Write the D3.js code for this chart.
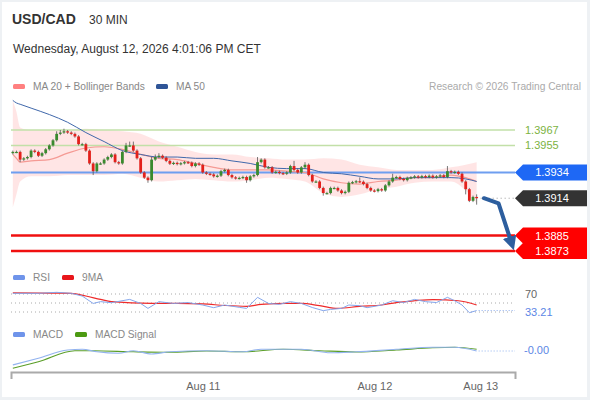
<!DOCTYPE html>
<html>
<head>
<meta charset="utf-8">
<script src="https://cdn.jsdelivr.net/npm/d3@7"></script>
<style>
  body { margin: 0; background: #eef1f4; }
  svg { display: block; font-family: "Liberation Sans", Arial, sans-serif; }
</style>
</head>
<body>
<div id="chart"></div>
<script>
// 30 min closes, one per candle (open = previous close)
var firstOpen = 1.3949;
var closes = [
  1.3950, 1.3950, 1.3944, 1.3945, 1.3946, 1.3951, 1.3950, 1.3947, 1.3949, 1.3952,
  1.3955, 1.3959, 1.3964, 1.3965, 1.3966, 1.3965, 1.3964, 1.3962, 1.3956, 1.3956,
  1.3951, 1.3941, 1.3935, 1.3941, 1.3941, 1.3944, 1.3946, 1.3948, 1.3942, 1.3941,
  1.3950, 1.3955, 1.3955, 1.3951, 1.3945, 1.3934, 1.3930, 1.3928, 1.3944, 1.3946,
  1.3947, 1.39455, 1.3943, 1.39408, 1.39415, 1.39405, 1.39412, 1.3942, 1.39416, 1.3939,
  1.3941, 1.3940, 1.3934, 1.3933, 1.39325, 1.3931, 1.39315, 1.3935, 1.3936, 1.3932,
  1.39302, 1.39295, 1.39298, 1.39305, 1.3928, 1.3931, 1.3932, 1.3942, 1.3944, 1.3938,
  1.3938, 1.3934, 1.39345, 1.39335, 1.3933, 1.3934, 1.3939, 1.3936, 1.3934, 1.3938,
  1.3940, 1.3932, 1.3927, 1.3927, 1.3922, 1.3918, 1.3918, 1.3922, 1.3922, 1.3920,
  1.3918, 1.3919, 1.3926, 1.39265, 1.39272, 1.39268, 1.3925, 1.3922, 1.3920, 1.39195,
  1.3921, 1.3920, 1.3924, 1.3927, 1.3930, 1.39305, 1.3929, 1.3928, 1.39298, 1.39302,
  1.3931, 1.39302, 1.39312, 1.39305, 1.39315, 1.39302, 1.3931, 1.39318, 1.39305, 1.3935,
  1.3934, 1.39345, 1.3933, 1.3927, 1.3921, 1.3912, 1.3915, 1.3914
];
// wick lengths above / below the body, in pips
var wickUp = [
  1,1,1,1,1,1,1,1,1,1, 1,1,2,2,2,1,1,1,1,1, 1,1,1,1,1,1,1,1,1,1, 1,2,3,3,1,1,1,1,2,2,
  2,1,1,1,1,1,1,1,1,1, 1,1,1,1,1,1,1,1,1,1, 1,1,1,1,1,1,1,4,1,1, 1,1,1,1,1,1,1,4,1,1,
  2,1,1,1,1,1,1,1,1,1, 1,1,1,1,1,3,1,1,1,1, 1,1,1,1,3,1,1,1,1,1, 1,1,1,1,1,1,1,1,1,4,
  1,1,1,1,1,1,1,2
];
var wickDn = [
  1,1,2,1,1,1,1,1,1,1, 1,1,1,1,1,1,1,1,1,1, 1,1,3,1,1,1,1,1,1,1, 1,1,1,1,1,1,1,2,1,1,
  1,1,1,1,1,1,1,1,1,1, 1,1,1,1,1,1,1,1,1,1, 1,1,1,1,2,1,1,1,1,1, 1,1,1,1,1,1,1,1,1,1,
  1,1,1,1,1,2,1,1,1,1, 1,1,1,1,1,1,1,1,1,1, 1,1,1,1,1,1,1,1,1,1, 1,1,1,1,1,1,1,1,1,1,
  1,1,1,1,4,1,1,5
];

// MA 20, Bollinger bands and MA 50, read at these candle indices
var bandIdx   = [0, 1, 2, 5, 10, 15, 20, 25, 30, 35, 40, 45, 50, 55, 60, 65, 70, 75, 80, 85, 90, 95, 100, 105, 110, 115, 120, 124, 127];
var bandUpper = [1.3990, 1.3981, 1.3969, 1.3967, 1.3967, 1.3967, 1.3968, 1.3967, 1.3966, 1.3964, 1.3958, 1.3954, 1.3950, 1.3948, 1.3948,
                 1.3946, 1.3945, 1.3944, 1.3944, 1.3945, 1.3944, 1.3940, 1.3938, 1.3936, 1.3936, 1.3936, 1.3938, 1.3940, 1.3942];
var bandLower = [1.3907, 1.3917, 1.3927, 1.3931, 1.3931, 1.3932, 1.3932, 1.3932, 1.3933, 1.3930, 1.3927, 1.3928, 1.3929, 1.3928, 1.3927,
                 1.3928, 1.3930, 1.3929, 1.3927, 1.3918, 1.3915, 1.3917, 1.3921, 1.3923, 1.3926, 1.3927, 1.3927, 1.3920, 1.3910];
var ma20      = [1.3948, 1.3945, 1.3942, 1.3943, 1.3944, 1.3949, 1.3953, 1.3954, 1.3952, 1.3948, 1.3945, 1.3944, 1.3941, 1.3938, 1.3936,
                 1.3936, 1.3936, 1.3935, 1.3934, 1.3929, 1.3926, 1.3925, 1.3927, 1.3928, 1.3930, 1.3930, 1.3932, 1.3930, 1.3927];
var ma50      = [1.3990, 1.3988, 1.3987, 1.3984, 1.3979, 1.3973, 1.3965, 1.3958, 1.3951, 1.3948, 1.3946, 1.3946, 1.3945, 1.3945, 1.3943,
                 1.3941, 1.3938, 1.3937, 1.3937, 1.3934, 1.3933, 1.3931, 1.3929, 1.3929, 1.3930, 1.3930, 1.3930, 1.3929, 1.3927];

// RSI and its 9 period MA
var rsiIdx = [0, 7, 12, 16, 19, 22, 24, 27, 32, 35, 37, 40, 44, 48, 52, 55, 58, 62, 64, 67, 70, 73, 76, 79, 82, 85, 87, 90, 92, 95, 97, 101, 104, 107, 110, 113, 116, 119, 121, 123, 125, 127];
var rsiVal = [71.5, 71.5, 73.7, 71.5, 65.5, 49, 53, 50.7, 58, 49, 38, 53, 49, 51, 45.5, 39.6, 45.5, 40.4, 38, 62.6, 49, 47, 53, 49, 40, 33, 35.7, 38, 45.5, 44, 39.6, 45.5, 55, 51, 58, 53, 51, 62.6, 55, 45.5, 28.5, 33.21];
var rsiMaIdx = [0, 8, 16, 20, 24, 27, 38, 45, 52, 58, 64, 68, 75, 79, 84, 89, 95, 101, 105, 110, 115, 122, 127];
var rsiMaVal = [72.5, 72, 71.5, 65.5, 58, 53, 49, 49, 48, 44.5, 42.7, 47, 49, 49, 44, 38, 42.7, 45.5, 51, 55, 57.5, 55, 45.5];

// MACD and signal
var macdIdx = [0, 7, 15, 19, 23, 29, 33, 38, 43, 53, 63, 68, 79, 87, 94, 105, 115, 121, 127];
var macdVal = [-0.0006, -0.00033, 0, 0.00003, -0.00007, -0.00013, -0.00003, -0.00016, -0.00007, -0.00003, -0.00007, 0.00003, 0.00003, -0.00011, -0.00007, 0.00003, 0.00011, 0.00011, -0.00004];
var signalIdx = [0, 7, 17, 22, 33, 43, 53, 63, 74, 84, 94, 105, 115, 121, 127];
var signalVal = [-0.00073, -0.00047, -0.00003, -0.00003, -0.00007, -0.00009, -0.00004, -0.00007, 0.00003, -0.00003, -0.00008, 0, 0.00009, 0.00011, 0.00003];

// axis and levels
var dayTicks = [52, 99, 128];
var dayLabels = ["Aug 11", "Aug 12", "Aug 13"];
var resistances = [1.3967, 1.3955];
var pivot = 1.3934;
var lastPrice = 1.3914;
var supports = [1.3885, 1.3873];
var rsiLevels = [70, 50, 30];
var rsiLast = "33.21";
var macdLast = "-0.00";
var arrowIdx = [129, 133, 136];
var arrowPrice = [1.3914, 1.3910, 1.3884];

function init() {
    var w = 590, h = 400;
    var left = 11, right = 515;

    var x = d3.scaleLinear().domain([-0.5, 137.5]).range([left, right]);
    var y = d3.scaleLinear().domain([1.3873, 1.3967]).range([251, 130]);
    var yRsi = d3.scaleLinear().domain([30, 70]).range([312, 294]);
    var yMacd = d3.scaleLinear().domain([-0.0008, 0.0002]).range([370, 345]);

    var svg = d3.select("#chart").append("svg")
        .attr("width", w).attr("height", h);

    svg.append("rect").attr("x", 2).attr("y", 2).attr("width", 585).attr("height", 395)
        .attr("fill", "#fff");

    // header
    svg.append("text").attr("x", 12).attr("y", 24).attr("font-size", 14).attr("font-weight", "bold")
        .attr("fill", "#333").text("USD/CAD");
    svg.append("text").attr("x", 89).attr("y", 24).attr("font-size", 12).attr("fill", "#333").text("30 MIN");
    svg.append("text").attr("x", 13).attr("y", 53).attr("font-size", 12).attr("fill", "#333")
        .text("Wednesday, August 12, 2026 4:01:06 PM CET");

    // legends
    function legend(x0, y0, color, label) {
        svg.append("rect").attr("x", x0).attr("y", y0 - 6).attr("width", 12).attr("height", 5)
            .attr("rx", 1.5).attr("fill", color);
        svg.append("text").attr("x", x0 + 20).attr("y", y0).attr("font-size", 10.2)
            .attr("fill", "#888").text(label);
    }
    legend(13, 90, "#ff8080", "MA 20 + Bollinger Bands");
    legend(156, 90, "#2f5597", "MA 50");
    svg.append("text").attr("x", 581).attr("y", 90).attr("font-size", 10.2).attr("text-anchor", "end")
        .attr("fill", "#aaa").text("Research \u00a9 2026 Trading Central");
    legend(13, 281, "#6f94ea", "RSI");
    legend(62, 281, "#e8161b", "9MA");
    legend(13, 338, "#6f94ea", "MACD");
    legend(75, 338, "#4c9a12", "MACD Signal");

    // Bollinger band + moving averages
    var bands = bandIdx.map(function(d, k) {
        return { i: d, up: bandUpper[k], lo: bandLower[k], m20: ma20[k], m50: ma50[k] };
    });
    svg.append("path").datum(bands)
        .attr("fill", "#ffdede").attr("opacity", 0.8)
        .attr("d", d3.area().curve(d3.curveMonotoneX)
            .x(function(d) { return x(d.i); })
            .y0(function(d) { return y(d.lo); })
            .y1(function(d) { return y(d.up); }));

    // resistance lines
    resistances.forEach(function(p) {
        svg.append("line").attr("x1", left).attr("x2", right).attr("y1", y(p)).attr("y2", y(p))
            .attr("stroke", "#c2e0a8").attr("stroke-width", 1.5);
        svg.append("text").attr("x", 525).attr("y", y(p)).attr("dy", "0.36em").attr("font-size", 11)
            .attr("fill", "#7cb342").text(p.toFixed(4));
    });

    // pivot line
    svg.append("line").attr("x1", left).attr("x2", right).attr("y1", y(pivot)).attr("y2", y(pivot))
        .attr("stroke", "#6e9ef0").attr("stroke-width", 2);

    // support lines
    supports.forEach(function(p) {
        svg.append("line").attr("x1", left).attr("x2", right).attr("y1", y(p)).attr("y2", y(p))
            .attr("stroke", "#f01010").attr("stroke-width", 2.5);
    });

    svg.append("path").datum(bands)
        .attr("fill", "none").attr("stroke", "#f59a94").attr("stroke-width", 1.2)
        .attr("d", d3.line().curve(d3.curveMonotoneX)
            .x(function(d) { return x(d.i); })
            .y(function(d) { return y(d.m20); }));
    svg.append("path").datum(bands)
        .attr("fill", "none").attr("stroke", "#4068ab").attr("stroke-width", 1)
        .attr("d", d3.line().curve(d3.curveMonotoneX)
            .x(function(d) { return x(d.i); })
            .y(function(d) { return y(d.m50); }));

    // candles
    var candles = closes.map(function(c, i) {
        var o = i === 0 ? firstOpen : closes[i - 1];
        return {
            i: i, o: o, c: c,
            h: Math.max(o, c) + wickUp[i] * 0.0001,
            l: Math.min(o, c) - wickDn[i] * 0.0001
        };
    });
    var bw = 2.8;
    var cg = svg.append("g");
    cg.selectAll("line.wick").data(candles).enter().append("line")
        .attr("class", "wick")
        .attr("x1", function(d) { return x(d.i); })
        .attr("x2", function(d) { return x(d.i); })
        .attr("y1", function(d) { return y(d.h); })
        .attr("y2", function(d) { return y(d.l); })
        .attr("stroke", "#555").attr("stroke-width", 0.8);
    cg.selectAll("rect.body").data(candles).enter().append("rect")
        .attr("class", "body")
        .attr("x", function(d) { return x(d.i) - bw / 2; })
        .attr("width", bw)
        .attr("y", function(d) { return y(Math.max(d.o, d.c)); })
        .attr("height", function(d) { return Math.max(1.2, Math.abs(y(d.o) - y(d.c))); })
        .attr("fill", function(d) { return d.c >= d.o ? "#3a8a2e" : "#e3201b"; });

    // last price dotted line
    svg.append("line").attr("x1", x(127) + 4).attr("x2", right)
        .attr("y1", y(lastPrice)).attr("y2", y(lastPrice))
        .attr("stroke", "#999").attr("stroke-dasharray", "1,3");

    // price tags
    function tag(p, color) {
        var cy = y(p);
        svg.append("path")
            .attr("d", "M" + right + "," + cy + "L" + (right + 8) + "," + (cy - 8) + "H587V" + (cy + 8) + "H" + (right + 8) + "Z")
            .attr("fill", color);
        svg.append("text").attr("x", 552).attr("y", cy).attr("dy", "0.36em").attr("text-anchor", "middle")
            .attr("font-size", 11).attr("fill", "#fff").text(p.toFixed(4));
    }
    tag(pivot, "#1e68f5");
    tag(lastPrice, "#333");
    supports.forEach(function(p) { tag(p, "#ff0000"); });

    // forecast arrow
    var defs = svg.append("defs");
    defs.append("marker").attr("id", "head").attr("markerUnits", "userSpaceOnUse")
        .attr("markerWidth", 16).attr("markerHeight", 16).attr("refX", 0).attr("refY", 8)
        .attr("orient", "auto").attr("viewBox", "0 0 16 16")
        .append("path").attr("d", "M0,1L14,8L0,15Z").attr("fill", "#2d5e9e");
    var arrow = arrowIdx.map(function(d, k) { return [x(d), y(arrowPrice[k])]; });
    svg.append("path").datum(arrow)
        .attr("d", d3.line())
        .attr("fill", "none").attr("stroke", "#2d5e9e").attr("stroke-width", 4)
        .attr("stroke-linejoin", "round").attr("stroke-linecap", "round")
        .attr("marker-end", "url(#head)");

    // RSI panel
    rsiLevels.forEach(function(v) {
        svg.append("line").attr("x1", left).attr("x2", right).attr("y1", yRsi(v)).attr("y2", yRsi(v))
            .attr("stroke", "#aaa").attr("stroke-dasharray", "1,3");
    });
    var rsiPts = rsiIdx.map(function(d, k) { return [x(d), yRsi(rsiVal[k])]; });
    var rsiMaPts = rsiMaIdx.map(function(d, k) { return [x(d), yRsi(rsiMaVal[k])]; });
    svg.append("path").datum(rsiMaPts).attr("d", d3.line().curve(d3.curveMonotoneX))
        .attr("fill", "none").attr("stroke", "#ee2a2a").attr("stroke-width", 1.2);
    svg.append("path").datum(rsiPts).attr("d", d3.line())
        .attr("fill", "none").attr("stroke", "#84a6ec").attr("stroke-width", 1);
    svg.append("line").attr("x1", x(127) + 2).attr("x2", right)
        .attr("y1", yRsi(+rsiLast)).attr("y2", yRsi(+rsiLast))
        .attr("stroke", "#84a6ec").attr("stroke-dasharray", "1,2");
    svg.append("text").attr("x", 525).attr("y", yRsi(70)).attr("dy", "0.36em").attr("font-size", 11)
        .attr("fill", "#666").text("70");
    svg.append("text").attr("x", 525).attr("y", yRsi(+rsiLast)).attr("dy", "0.5em").attr("font-size", 11)
        .attr("fill", "#5b86e5").text(rsiLast);

    // MACD panel
    var macdPts = macdIdx.map(function(d, k) { return [x(d), yMacd(macdVal[k])]; });
    var sigPts = signalIdx.map(function(d, k) { return [x(d), yMacd(signalVal[k])]; });
    svg.append("path").datum(sigPts).attr("d", d3.line().curve(d3.curveMonotoneX))
        .attr("fill", "none").attr("stroke", "#5a9e28").attr("stroke-width", 1.2);
    svg.append("path").datum(macdPts).attr("d", d3.line().curve(d3.curveMonotoneX))
        .attr("fill", "none").attr("stroke", "#93b3ef").attr("stroke-width", 1.2);
    var macdEnd = macdVal[macdVal.length - 1];
    svg.append("line").attr("x1", x(127) + 2).attr("x2", right)
        .attr("y1", yMacd(macdEnd)).attr("y2", yMacd(macdEnd))
        .attr("stroke", "#93b3ef").attr("stroke-dasharray", "1,2");
    svg.append("text").attr("x", 524).attr("y", yMacd(macdEnd)).attr("dy", "0.3em").attr("font-size", 11)
        .attr("fill", "#5b86e5").text(macdLast);

    // x axis
    var xAxis = d3.axisBottom(x)
        .tickValues(dayTicks)
        .tickFormat(function(d, k) { return dayLabels[k]; })
        .tickSizeInner(0).tickSizeOuter(7).tickPadding(10);
    var ax = svg.append("g").attr("transform", "translate(0,372)").call(xAxis)
        .attr("font-family", null).attr("font-size", 11);
    ax.select(".domain").attr("stroke", "#aaa").attr("stroke-width", 2);
    ax.selectAll("text").attr("fill", "#666");
}

window.onload = init;
</script>
</body>
</html>
